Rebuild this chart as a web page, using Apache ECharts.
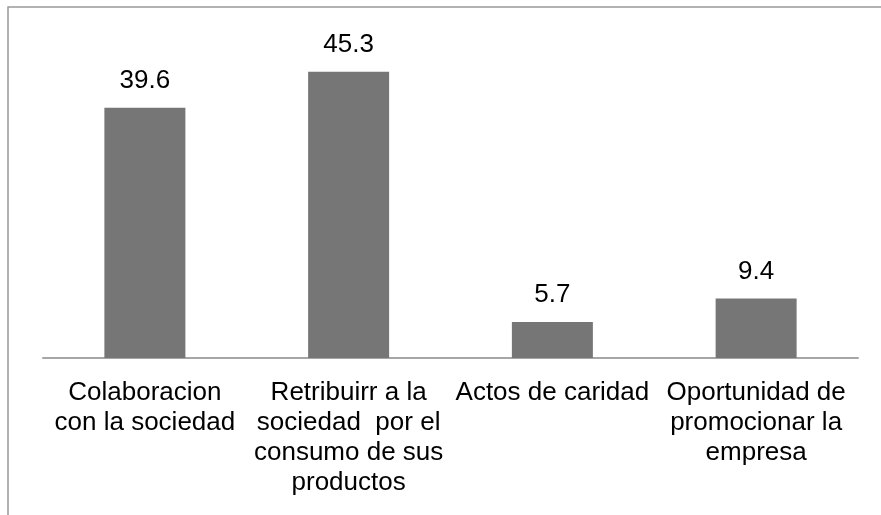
<!DOCTYPE html>
<html>
<head>
<meta charset="utf-8">
<script src="https://cdn.jsdelivr.net/npm/echarts@6/dist/echarts.min.js"></script>
<style>
  html, body { margin: 0; padding: 0; background: #fff; }
  #chart { width: 881px; height: 515px; }
</style>
</head>
<body>
<div id="chart"></div>
<script>
const categories = [
  'Colaboracion\ncon la sociedad',
  'Retribuirr a la\nsociedad  por el\nconsumo de sus\nproductos',
  'Actos de caridad',
  'Oportunidad de\npromocionar la\nempresa'
]
const values = [39.6, 45.3, 5.7, 9.4]

const chart = echarts.init(document.getElementById('chart'))
const font = "'Liberation Sans', Arial, sans-serif"

chart.setOption({
  animation: false,
  backgroundColor: '#fff',
  // outer frame, only top and left edges are inside the picture
  graphic: [
    {
      type: 'rect',
      shape: { x: 8, y: 7, width: 1000, height: 1000 },
      style: { fill: 'none', stroke: '#999', lineWidth: 1.5 },
      silent: true
    }
  ],
  grid: { left: 43, right: 23, top: 42, bottom: 157 },
  xAxis: {
    type: 'category',
    data: categories,
    axisLine: { show: true, lineStyle: { color: '#a6a6a6', width: 2 } },
    axisTick: { show: false },
    axisLabel: {
      interval: 0,
      margin: 20,
      color: '#000',
      fontFamily: font,
      fontSize: 26,
      lineHeight: 30,
      align: 'center'
    }
  },
  yAxis: {
    type: 'value',
    min: 0,
    max: 50,
    show: false,
    splitLine: { show: false }
  },
  series: [
    {
      type: 'bar',
      data: values,
      barWidth: 81,
      itemStyle: { color: '#767676' },
      label: {
        show: true,
        position: 'top',
        distance: 14,
        color: '#000',
        fontFamily: font,
        fontSize: 26
      }
    }
  ]
})
</script>
</body>
</html>
